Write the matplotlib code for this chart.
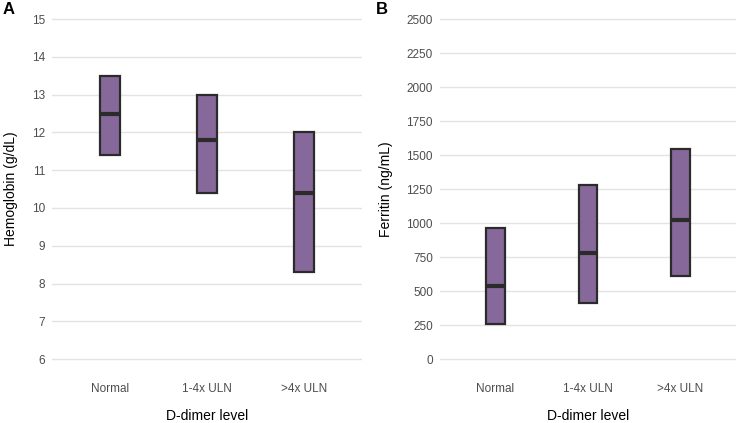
import matplotlib.pyplot as plt
import numpy as np

plt.rcParams['font.family'] = ['Liberation Sans', 'DejaVu Sans']

categories = ['Normal', '1-4x ULN', '>4x ULN']

# panel A: hemoglobin (g/dL)
hb_low = [11.4, 10.4, 8.3]
hb_mid = [12.5, 11.8, 10.4]
hb_high = [13.5, 13.0, 12.0]

# panel B: ferritin (ng/mL)
fer_low = [255, 410, 610]
fer_mid = [535, 780, 1025]
fer_high = [965, 1280, 1545]

fill = '#86699a'
edge = '#2b2b2b'
grid = '#e3e3e3'
tick_col = '#4d4d4d'


def crossbar(ax, low, mid, high, ticks, ylabel, letter, letter_x):
    x = np.arange(1, len(categories) + 1)
    w = 0.2
    ax.bar(x, np.array(high) - np.array(low), bottom=low, width=w,
           color=fill, edgecolor=edge, linewidth=1.6, zorder=3)
    ax.hlines(mid, x - w / 2, x + w / 2, color=edge, linewidth=3, zorder=4)
    ax.set_xlim(0.4, 3.6)
    span = ticks[-1] - ticks[0]
    ax.set_ylim(ticks[0] - 0.05 * span, ticks[-1] + 0.05 * span)
    ax.set_yticks(ticks)
    ax.set_xticks(x)
    ax.set_xticklabels(categories)
    ax.yaxis.grid(True, color=grid, linewidth=1.0, zorder=0)
    ax.xaxis.grid(False)
    for s in ax.spines.values():
        s.set_visible(False)
    ax.tick_params(length=0, labelsize=8.5, labelcolor=tick_col)
    ax.tick_params(axis='y', pad=5)
    ax.tick_params(axis='x', pad=5)
    ax.set_xlabel('D-dimer level', fontsize=10, labelpad=10)
    ax.set_ylabel(ylabel, fontsize=10, labelpad=10)
    ax.text(letter_x, 1.0, letter, transform=ax.transAxes, fontsize=12,
            fontweight='bold', va='top', ha='left')


fig = plt.figure(figsize=(7.38, 4.23), dpi=100)
ax1 = fig.add_axes([0.0705, 0.111, 0.42, 0.884])
ax2 = fig.add_axes([0.596, 0.111, 0.401, 0.884])

crossbar(ax1, hb_low, hb_mid, hb_high, list(range(6, 16)),
         'Hemoglobin (g/dL)', 'A', -0.158)
crossbar(ax2, fer_low, fer_mid, fer_high, list(range(0, 2501, 250)),
         'Ferritin (ng/mL)', 'B', -0.216)

fig.savefig('out.png', dpi=100)
